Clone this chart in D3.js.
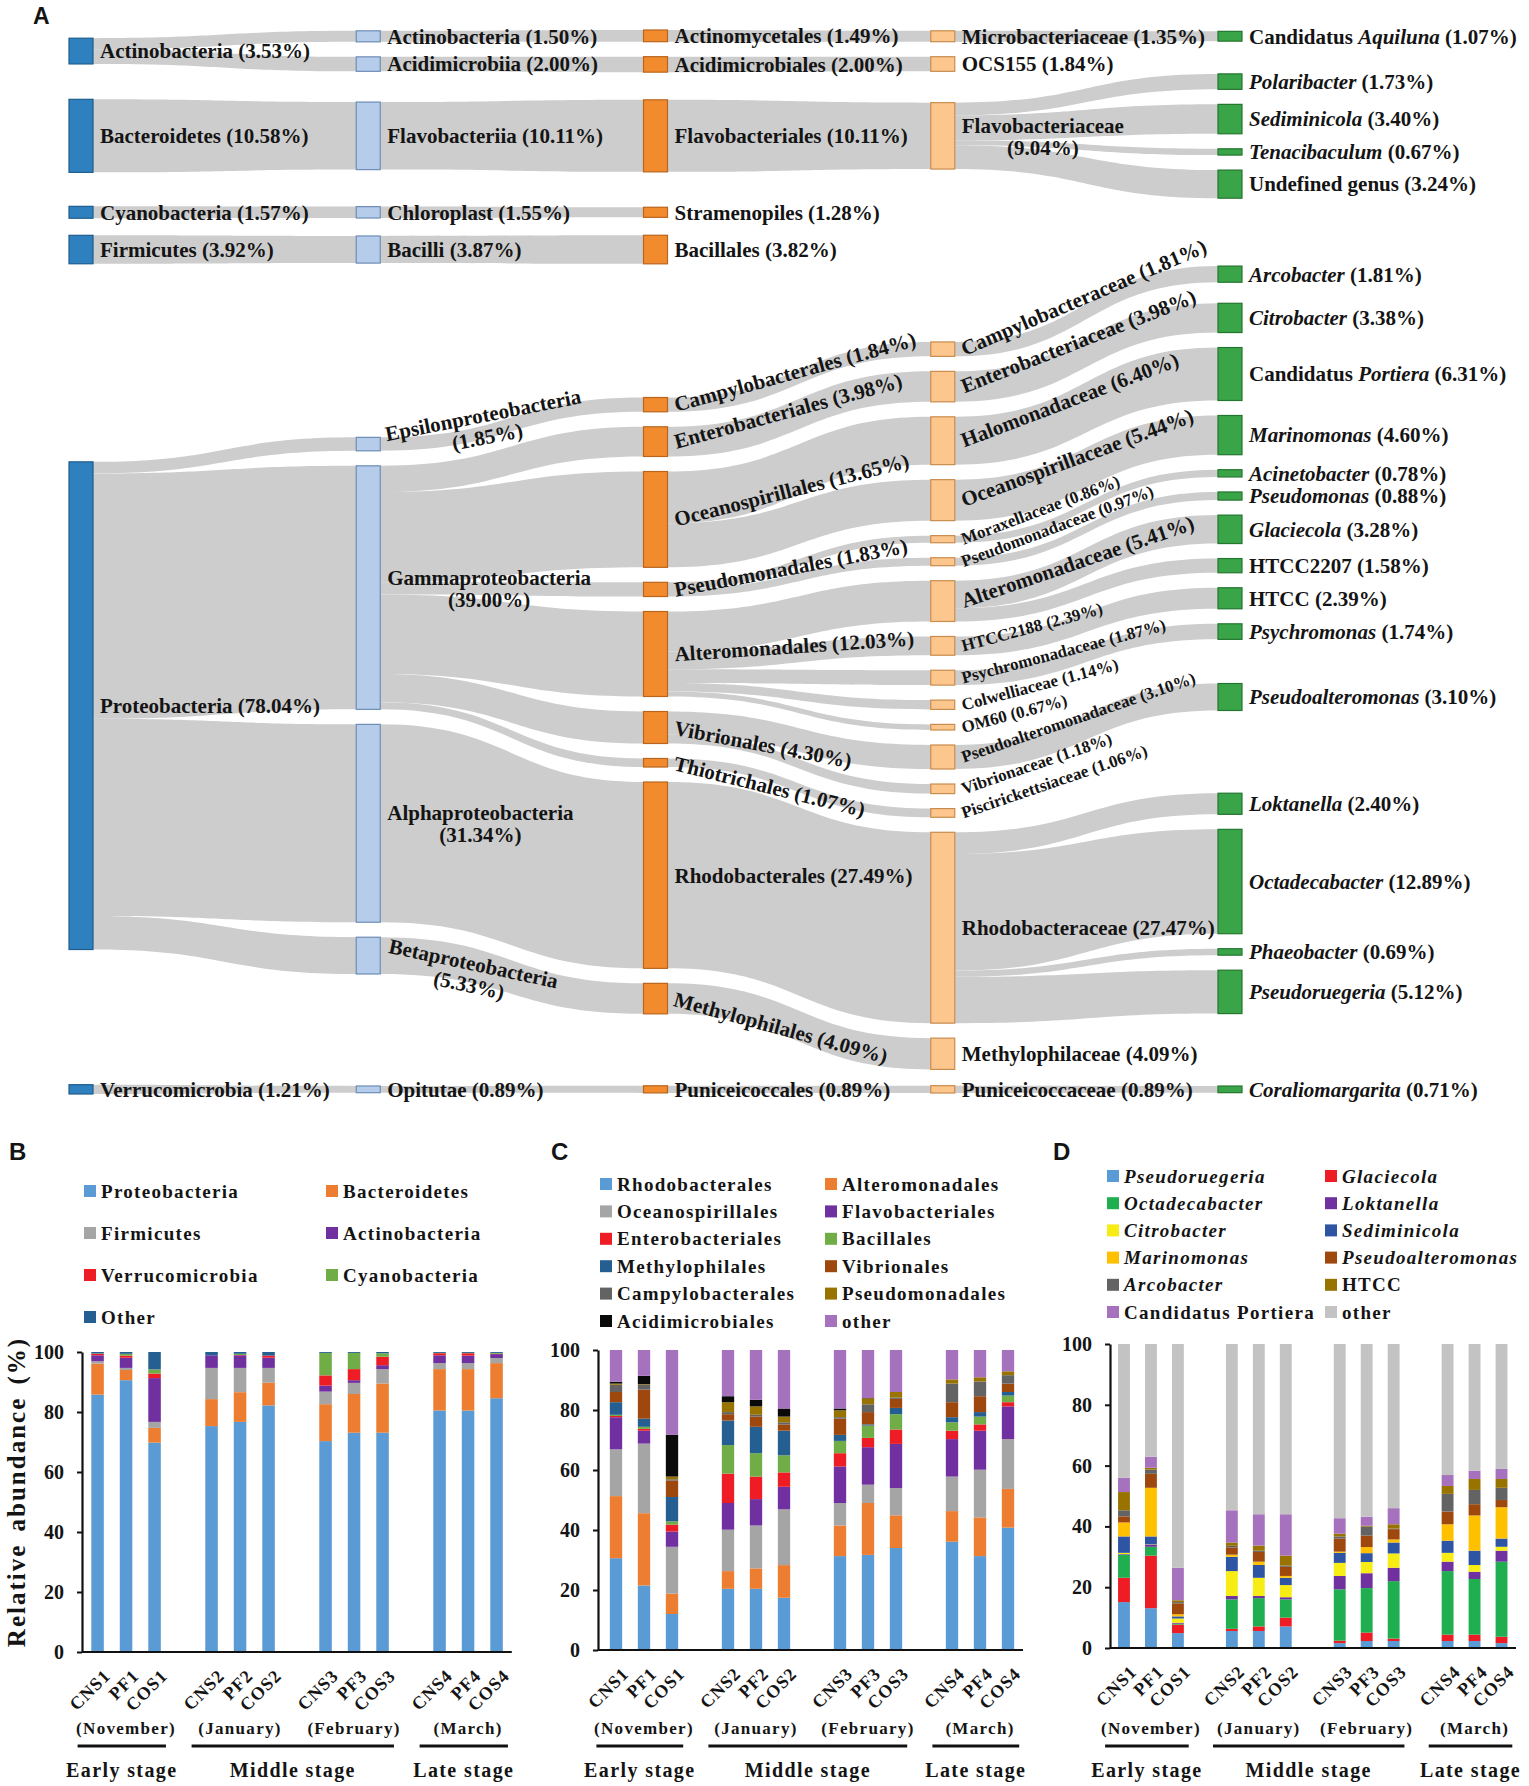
<!DOCTYPE html>
<html>
<head>
<meta charset="utf-8">
<script src="https://cdn.jsdelivr.net/npm/d3@7"></script>
<style>
  body { margin: 0; background: #fff; }
  svg { display: block; }
  text { font-family: "Liberation Serif", "Times New Roman", serif; font-weight: bold; fill: #141414; }
  .letter { font-family: "Liberation Sans", Arial, sans-serif; }
</style>
</head>
<body>
<svg id="fig" width="1529" height="1786"></svg>
<script>
// ---------- panel A: taxonomy levels [name, %, parent] ----------
const phyla = [
  ["Actinobacteria", 3.53], ["Bacteroidetes", 10.58], ["Cyanobacteria", 1.57],
  ["Firmicutes", 3.92], ["Proteobacteria", 78.04], ["Verrucomicrobia", 1.21]
]
const classes = [
  ["Actinobacteria", 1.50, "Actinobacteria"], ["Acidimicrobiia", 2.00, "Actinobacteria"],
  ["Flavobacteriia", 10.11, "Bacteroidetes"], ["Chloroplast", 1.55, "Cyanobacteria"],
  ["Bacilli", 3.87, "Firmicutes"], ["Epsilonproteobacteria", 1.85, "Proteobacteria"],
  ["Gammaproteobacteria", 39.00, "Proteobacteria"], ["Alphaproteobacteria", 31.34, "Proteobacteria"],
  ["Betaproteobacteria", 5.33, "Proteobacteria"], ["Opitutae", 0.89, "Verrucomicrobia"]
]
const orders = [
  ["Actinomycetales", 1.49, "Actinobacteria"], ["Acidimicrobiales", 2.00, "Acidimicrobiia"],
  ["Flavobacteriales", 10.11, "Flavobacteriia"], ["Stramenopiles", 1.28, "Chloroplast"],
  ["Bacillales", 3.82, "Bacilli"], ["Campylobacterales", 1.84, "Epsilonproteobacteria"],
  ["Enterobacteriales", 3.98, "Gammaproteobacteria"], ["Oceanospirillales", 13.65, "Gammaproteobacteria"],
  ["Pseudomonadales", 1.83, "Gammaproteobacteria"], ["Alteromonadales", 12.03, "Gammaproteobacteria"],
  ["Vibrionales", 4.30, "Gammaproteobacteria"], ["Thiotrichales", 1.07, "Gammaproteobacteria"],
  ["Rhodobacterales", 27.49, "Alphaproteobacteria"], ["Methylophilales", 4.09, "Betaproteobacteria"],
  ["Puniceicoccales", 0.89, "Opitutae"]
]
const families = [
  ["Microbacteriaceae", 1.35, "Actinomycetales"], ["OCS155", 1.84, "Acidimicrobiales"],
  ["Flavobacteriaceae", 9.04, "Flavobacteriales"], ["Campylobacteraceae", 1.81, "Campylobacterales"],
  ["Enterobacteriaceae", 3.98, "Enterobacteriales"], ["Halomonadaceae", 6.40, "Oceanospirillales"],
  ["Oceanospirillaceae", 5.44, "Oceanospirillales"], ["Moraxellaceae", 0.86, "Pseudomonadales"],
  ["Pseudomonadaceae", 0.97, "Pseudomonadales"], ["Alteromonadaceae", 5.41, "Alteromonadales"],
  ["HTCC2188", 2.39, "Alteromonadales"], ["Psychromonadaceae", 1.87, "Alteromonadales"],
  ["Colwelliaceae", 1.14, "Alteromonadales"], ["OM60", 0.67, "Alteromonadales"],
  ["Pseudoalteromonadaceae", 3.10, "Vibrionales"], ["Vibrionaceae", 1.18, "Vibrionales"],
  ["Piscirickettsiaceae", 1.06, "Thiotrichales"], ["Rhodobacteraceae", 27.47, "Rhodobacterales"],
  ["Methylophilaceae", 4.09, "Methylophilales"], ["Puniceicoccaceae", 0.89, "Puniceicoccales"]
]
const genera = [
  ["Candidatus Aquiluna", 1.07, "Microbacteriaceae"], ["Polaribacter", 1.73, "Flavobacteriaceae"],
  ["Sediminicola", 3.40, "Flavobacteriaceae"], ["Tenacibaculum", 0.67, "Flavobacteriaceae"],
  ["Undefined genus", 3.24, "Flavobacteriaceae"], ["Arcobacter", 1.81, "Campylobacteraceae"],
  ["Citrobacter", 3.38, "Enterobacteriaceae"], ["Candidatus Portiera", 6.31, "Halomonadaceae"],
  ["Marinomonas", 4.60, "Oceanospirillaceae"], ["Acinetobacter", 0.78, "Moraxellaceae"],
  ["Pseudomonas", 0.88, "Pseudomonadaceae"], ["Glaciecola", 3.28, "Alteromonadaceae"],
  ["HTCC2207", 1.58, "Alteromonadaceae"], ["HTCC", 2.39, "HTCC2188"],
  ["Psychromonas", 1.74, "Psychromonadaceae"], ["Pseudoalteromonas", 3.10, "Pseudoalteromonadaceae"],
  ["Loktanella", 2.40, "Rhodobacteraceae"], ["Octadecabacter", 12.89, "Rhodobacteraceae"],
  ["Phaeobacter", 0.69, "Rhodobacteraceae"], ["Pseudoruegeria", 5.12, "Rhodobacteraceae"],
  ["Coraliomargarita", 0.71, "Puniceicoccaceae"]
]

// ---------- panels B-D: samples and series ----------
const samples = ["CNS1", "PF1", "COS1", "CNS2", "PF2", "COS2", "CNS3", "PF3", "COS3", "CNS4", "PF4", "COS4"]
const months = ["(November)", "(January)", "(February)", "(March)"]
const stages = [["Early stage", "CNS1", "COS1"], ["Middle stage", "CNS2", "COS3"], ["Late stage", "CNS4", "COS4"]]

const phylumKeys = ["Proteobacteria", "Bacteroidetes", "Firmicutes", "Actinobacteria", "Verrucomicrobia", "Cyanobacteria", "Other"]
const phylumColors = ["#5b9bd5", "#ed7d31", "#a5a5a5", "#7030a0", "#ee1c25", "#70ad47", "#255e91"]
const phylumValues = [
  [85.8, 90.6, 69.8, 75.3, 76.7, 82.2, 70.3, 73.1, 73.1, 80.5, 80.5, 84.6],
  [10.3, 3.4, 4.9, 9.0, 9.9, 7.6, 12.3, 12.9, 16.4, 13.8, 13.8, 11.7],
  [0.8, 0.7, 2.0, 10.4, 8.1, 4.9, 4.2, 3.7, 4.8, 2.0, 2.0, 1.7],
  [2.0, 3.4, 14.6, 4.2, 4.2, 3.4, 2.0, 0.9, 1.3, 2.6, 2.5, 1.3],
  [0.5, 0.7, 1.5, 0.0, 0.1, 0.7, 3.4, 3.7, 2.8, 0.7, 0.8, 0.1],
  [0.1, 0.6, 1.4, 0.0, 0.4, 0.0, 7.5, 5.4, 1.2, 0.1, 0.1, 0.3],
  [0.5, 0.6, 5.8, 1.1, 0.6, 1.2, 0.3, 0.3, 0.4, 0.3, 0.3, 0.3]
]

const orderKeys = ["Rhodobacterales", "Alteromonadales", "Oceanospirillales", "Flavobacteriales", "Enterobacteriales", "Bacillales",
  "Methylophilales", "Vibrionales", "Campylobacterales", "Pseudomonadales", "Acidimicrobiales", "other"]
const orderColors = ["#5b9bd5", "#ed7d31", "#a5a5a5", "#7030a0", "#ee1c25", "#70ad47",
  "#255e91", "#9e480e", "#636363", "#997300", "#0a0a0a", "#a672bd"]
const orderValues = [
  [30.6, 21.5, 12.0, 20.4, 20.4, 17.4, 31.3, 31.7, 34.0, 36.1, 31.3, 40.8],
  [20.7, 24.1, 6.8, 5.9, 6.8, 10.9, 10.2, 17.3, 10.9, 10.2, 12.9, 12.9],
  [15.6, 23.2, 15.6, 13.8, 14.3, 18.6, 7.5, 6.1, 9.1, 11.5, 15.9, 16.6],
  [10.7, 4.3, 5.1, 8.9, 8.8, 7.5, 12.2, 12.5, 14.7, 12.5, 13.0, 10.9],
  [0.4, 0.6, 2.3, 9.8, 7.5, 4.8, 4.4, 3.1, 4.8, 2.8, 2.1, 1.4],
  [0.4, 0.7, 1.1, 9.5, 7.8, 5.7, 4.1, 4.1, 5.1, 2.8, 2.6, 2.2],
  [4.2, 2.7, 8.1, 8.2, 8.8, 8.2, 2.0, 0.4, 2.1, 1.7, 1.5, 1.2],
  [3.4, 9.7, 5.5, 2.1, 3.4, 2.1, 5.4, 4.1, 3.0, 5.0, 5.3, 2.8],
  [2.4, 1.6, 0.4, 0.7, 0.6, 0.7, 0.5, 2.6, 0.4, 6.2, 4.9, 2.8],
  [0.4, 0.2, 0.9, 3.3, 2.8, 1.9, 2.3, 2.0, 1.9, 1.4, 1.4, 1.3],
  [0.6, 2.8, 13.9, 2.0, 2.2, 2.7, 0.6, 0.1, 0.0, 0.0, 0.0, 0.0],
  [10.6, 8.6, 28.3, 15.4, 16.6, 19.5, 19.5, 16.0, 14.0, 9.8, 9.1, 7.1]
]

const genusKeys = ["Pseudoruegeria", "Glaciecola", "Octadecabacter", "Loktanella", "Citrobacter", "Sediminicola",
  "Marinomonas", "Pseudoalteromonas", "Arcobacter", "HTCC", "Candidatus Portiera", "other"]
const genusColors = ["#5b9bd5", "#ee1c25", "#1fae50", "#7030a0", "#f7ec13", "#2e54a4",
  "#ffc000", "#9e480e", "#636363", "#997300", "#a672bd", "#c3c3c3"]
const genusValues = [
  [15.1, 13.1, 4.9, 5.6, 5.6, 7.1, 1.6, 2.3, 2.3, 2.3, 2.3, 1.6],
  [8.0, 17.3, 2.8, 0.7, 1.5, 2.9, 0.8, 2.8, 0.8, 2.1, 2.1, 2.1],
  [7.6, 2.9, 0.3, 9.7, 9.3, 6.0, 16.9, 14.6, 18.9, 20.9, 18.3, 24.7],
  [0.2, 0.7, 0.3, 1.1, 0.7, 0.7, 4.4, 4.9, 4.4, 3.1, 2.4, 3.6],
  [0.4, 0.1, 1.4, 8.2, 6.0, 4.0, 4.3, 3.7, 4.7, 2.9, 2.2, 1.3],
  [5.4, 2.6, 0.7, 4.7, 4.2, 2.4, 3.3, 2.9, 3.6, 4.0, 4.7, 2.7],
  [4.6, 16.0, 0.7, 0.7, 1.1, 0.6, 0.4, 2.0, 1.0, 5.4, 11.6, 10.3],
  [2.0, 4.6, 3.6, 2.4, 3.2, 3.0, 4.3, 3.8, 3.4, 4.2, 3.7, 2.4],
  [2.0, 1.4, 0.4, 0.5, 0.4, 0.4, 0.7, 2.9, 0.2, 5.8, 4.7, 4.0],
  [6.0, 0.6, 0.6, 1.1, 1.7, 3.3, 0.9, 0.3, 1.4, 2.6, 3.6, 2.9],
  [4.7, 3.6, 10.7, 10.6, 10.3, 13.6, 5.1, 3.0, 5.3, 3.6, 2.7, 3.3],
  [44.0, 37.1, 73.6, 54.7, 56.0, 56.0, 57.3, 56.8, 54.0, 43.1, 41.7, 41.1]
]

const svg = d3.select("#fig")
const pct = d3.format(".2f")

// ================= A: sankey =================
const colX = d3.scaleLinear().domain([0, 4]).range([69, 1218])
const nodeW = 24
const gap = 15
const sankeyTop = 30, sankeyBottom = 1094
// node thickness per column (the original is drawn slightly sub-linear)
const thick = [7.77, 7.5, 8.0, 8.2, 9.2].map(a => d3.scalePow().exponent(0.95).domain([0, 1]).range([0, a]))
const bandGapWeight = [0.8, 1, 0.5, 2.3, 0.45]
// genus column is lifted above its parents in the proteobacteria block
const rise = { Epsilonproteobacteria: 75, Gammaproteobacteria: 60, Alphaproteobacteria: 25 }
const tiltGain = [1.3, 1.3, 1.3, 1.5]
const colFill = ["#2f80be", "#b5cdea", "#f28b2e", "#fcc68d", "#3aa548"]
const colStroke = ["#1e5d8e", "#6d8db6", "#b9651d", "#c98c4d", "#24752f"]
const wrapLabels = new Set(["Epsilonproteobacteria", "Gammaproteobacteria", "Alphaproteobacteria", "Betaproteobacteria", "Flavobacteriaceae"])

const nodes = []
;[phyla, classes, orders, families, genera].forEach((rows, col) => rows.forEach(([name, value, parentName]) => {
  const parent = col ? nodes.find(n => n.col === col - 1 && n.name === parentName) : null
  nodes.push({ name, value, col, parent, kids: [] })
}))
nodes.forEach(n => {
  if (n.parent) n.parent.kids.push(n)
  const chain = [n]
  while (chain[0].parent) chain.unshift(chain[0].parent)
  n.band = chain[0].name
  n.cls = chain[1] ? chain[1].name : null
  n.h = Math.max(5, thick[n.col](n.value))
})

// bands: one per phylum, columns 0-3 stacked and centred inside
const bands = phyla.map(d => d[0])
const stackH = arr => d3.sum(arr, n => n.h) + gap * Math.max(0, arr.length - 1)
const bandH = bands.map(b => d3.max([0, 1, 2, 3], c => stackH(nodes.filter(n => n.band === b && n.col === c))))
const gapUnit = (sankeyBottom - sankeyTop - d3.sum(bandH)) / d3.sum(bandGapWeight)
let yb = sankeyTop
bands.forEach((b, i) => {
  for (let c = 0; c < 4; c++) {
    const col = nodes.filter(n => n.band === b && n.col === c)
    let y = yb + (bandH[i] - stackH(col)) / 2
    col.forEach(n => { n.y = y; y += n.h + gap })
  }
  yb += bandH[i] + (bandGapWeight[i] || 0) * gapUnit
})

nodes.forEach(p => {
  const tot = d3.sum(p.kids, k => k.value)
  let y = p.y
  p.kids.forEach(k => { k.sh = p.h * k.value / tot; k.sy = y; y += k.sh })
})

// genus column: put each next to its parent slot, keep order + gaps (pool adjacent violators)
function isotonic (vals) {
  const blocks = []
  vals.forEach(v => {
    blocks.push({ sum: v, n: 1 })
    while (blocks.length > 1) {
      const a = blocks[blocks.length - 2], b = blocks[blocks.length - 1]
      if (a.sum / a.n <= b.sum / b.n) break
      a.sum += b.sum; a.n += b.n
      blocks.pop()
    }
  })
  return blocks.flatMap(b => d3.range(b.n).map(() => b.sum / b.n))
}
const leaves = nodes.filter(n => n.col === 4)
let cum = 0
const offs = leaves.map(n => { const o = cum; cum += n.h + gap; return o })
const fit = isotonic(leaves.map((n, i) => n.sy + n.sh / 2 - n.h / 2 - (rise[n.cls] || 0) - offs[i]))
let minY = 12
leaves.forEach((n, i) => { n.y = Math.max(minY, fit[i] + offs[i]); minY = n.y + n.h + gap })

const gA = svg.append("g")
const links = nodes.filter(n => n.parent).map(n => ({ s: n.parent, t: n }))
gA.append("g").selectAll("path").data(links).join("path")
  .attr("fill", "#cdcdcd")
  .attr("d", l => {
    const x0 = colX(l.s.col) + nodeW, x1 = colX(l.t.col), xm = (x0 + x1) / 2
    const a0 = l.t.sy, a1 = l.t.sy + l.t.sh, b0 = l.t.y, b1 = l.t.y + l.t.h
    return `M${x0},${a0}C${xm},${a0} ${xm},${b0} ${x1},${b0}L${x1},${b1}C${xm},${b1} ${xm},${a1} ${x0},${a1}Z`
  })

gA.append("g").selectAll("rect").data(nodes).join("rect")
  .attr("x", n => colX(n.col)).attr("y", n => n.y)
  .attr("width", nodeW).attr("height", n => n.h)
  .attr("fill", n => colFill[n.col]).attr("stroke", n => colStroke[n.col]).attr("stroke-width", 1.2)

// labels follow the direction of the outgoing ribbon
function tilt (n) {
  if (n.col === 4 || n.h > 150) return 0
  if (n.kids.length) {
    const tc = d3.sum(n.kids, k => (k.y + k.h / 2) * k.value) / d3.sum(n.kids, k => k.value)
    const a = Math.atan(tiltGain[n.col] * (tc - n.y - n.h / 2) / (colX(1) - colX(0) - nodeW)) * 180 / Math.PI
    return Math.abs(a) < 3 ? 0 : a
  }
  const above = nodes.filter(m => m.col === n.col && m.band === n.band && m.y < n.y)
  return above.length ? tilt(above[above.length - 1]) : 0
}
function isFirstInBand (n) {
  return !nodes.some(m => m.col === n.col && m.band === n.band && m.y < n.y)
}
function parts (n) {
  const p = ` (${pct(n.value)}%)`
  if (n.col < 4) return [[n.name + p, false]]
  if (n.name.startsWith("Candidatus ")) return [["Candidatus ", false], [n.name.slice(11), true], [p, false]]
  if (/^[A-Z0-9]+$/.test(n.name) || n.name.startsWith("Undefined")) return [[n.name + p, false]]
  return [[n.name, true], [p, false]]
}

const lab = gA.append("g").selectAll("g").data(nodes).join("g")
  .attr("transform", n => `translate(${colX(n.col) + nodeW + 7},${n.y + n.h / 2}) rotate(${tilt(n)})`)
  .style("font-size", n => (n.col === 3 && n.value < 3.2 && tilt(n) !== 0 && !isFirstInBand(n)) ? "17px" : "21px")

lab.each(function (n) {
  const g = d3.select(this)
  if (wrapLabels.has(n.name)) {
    const t1 = g.append("text").attr("y", -3).text(n.name)
    const w = t1.node().getComputedTextLength()
    g.append("text").attr("x", w / 2).attr("y", 19).attr("text-anchor", "middle").text(`(${pct(n.value)}%)`)
    return
  }
  const t = g.append("text").attr("dy", "0.35em")
  parts(n).forEach(([s, it]) => t.append("tspan").style("font-style", it ? "italic" : "normal").text(s))
})

svg.append("text").attr("class", "letter").attr("x", 33).attr("y", 24).style("font-size", "23px").text("A")

// ================= B-D: stacked bars =================
function stackedPanel (o) {
  const g = svg.append("g")
  const slotsB = samples.flatMap((s, i) => (i % 3 === 2 && i < samples.length - 1) ? [s, "sep" + i] : [s])
  const x = d3.scaleBand().domain(slotsB).range(o.xr).paddingInner(0.56).paddingOuter(0.28)
  const y = d3.scaleLinear().domain([0, 100]).range(o.yr)
  const rows = samples.map((s, i) => Object.fromEntries([["sample", s]].concat(o.keys.map((k, j) => [k, o.values[j][i]]))))
  const series = d3.stack().keys(o.keys)(rows)

  g.append("g").selectAll("g").data(series).join("g")
    .attr("fill", (d, i) => o.colors[i])
    .selectAll("rect").data(d => d).join("rect")
    .attr("x", d => x(d.data.sample)).attr("width", x.bandwidth())
    .attr("y", d => y(d[1])).attr("height", d => Math.max(0, y(d[0]) - y(d[1])))

  const ax = g.append("g").attr("transform", `translate(${o.axisX},0)`)
    .call(d3.axisLeft(y).tickValues([0, 20, 40, 60, 80, 100]).tickSize(5).tickSizeOuter(0).tickPadding(13))
  ax.select(".domain").attr("stroke", "#111").attr("stroke-width", 2.2)
  ax.selectAll(".tick line").attr("stroke", "#111").attr("stroke-width", 2)
  ax.selectAll(".tick text").attr("fill", "#141414").style("font-size", "20px")
    .style("font-family", "'Liberation Serif', 'Times New Roman', serif").style("font-weight", "bold")
  g.append("line").attr("x1", o.axisX).attr("x2", o.xr[1] + 1).attr("y1", y(0)).attr("y2", y(0))
    .attr("stroke", "#111").attr("stroke-width", 2.2)

  const cx = s => x(s) + x.bandwidth() / 2
  g.append("g").selectAll("text").data(samples).join("text")
    .attr("transform", s => `translate(${cx(s) + 5},${y(0) + 16}) rotate(-45)`)
    .attr("text-anchor", "end").attr("dy", "0.7em")
    .style("font-size", "18px").style("letter-spacing", "1px").text(s => s)

  g.append("g").selectAll("text").data(months).join("text")
    .attr("x", (m, i) => cx(samples[i * 3 + 1])).attr("y", 1734)
    .attr("text-anchor", "middle").style("font-size", "17px").style("letter-spacing", "1.3px").text(m => m)

  const st = g.append("g").selectAll("g").data(stages).join("g")
  st.append("line")
    .attr("x1", d => cx(d[1]) - 0.7 * x.step()).attr("x2", d => cx(d[2]) + 0.4 * x.step())
    .attr("y1", 1746).attr("y2", 1746).attr("stroke", "#111").attr("stroke-width", 3)
  st.append("text")
    .attr("x", d => (cx(d[1]) - 0.7 * x.step() + cx(d[2]) + 0.4 * x.step()) / 2).attr("y", 1777)
    .attr("text-anchor", "middle").style("font-size", "20px").style("letter-spacing", "1.4px").text(d => d[0])

  const lg = g.append("g").selectAll("g").data(o.keys).join("g")
    .attr("transform", (k, i) => `translate(${o.legX[i % 2]},${o.legY + Math.floor(i / 2) * o.legDy})`)
  lg.append("rect").attr("y", -6).attr("width", 12).attr("height", 12).attr("fill", (k, i) => o.colors[i])
  lg.append("text").attr("x", 17).attr("dy", "0.35em")
    .style("font-size", "19px").style("letter-spacing", "1.3px")
    .style("font-style", k => o.italic && o.italic(k) ? "italic" : "normal").text(k => k)

  svg.append("text").attr("class", "letter").attr("x", o.letter[1]).attr("y", 1160)
    .style("font-size", "24px").text(o.letter[0])
}

stackedPanel({
  keys: phylumKeys, colors: phylumColors, values: phylumValues,
  xr: [83.3, 510.8], yr: [1652, 1352], axisX: 82,
  legX: [84, 326], legY: 1191, legDy: 42, letter: ["B", 9]
})
stackedPanel({
  keys: orderKeys, colors: orderColors, values: orderValues,
  xr: [602, 1022], yr: [1650, 1350], axisX: 598,
  legX: [600, 825], legY: 1184, legDy: 27.4, letter: ["C", 551]
})
stackedPanel({
  keys: genusKeys, colors: genusColors, values: genusValues,
  xr: [1110.5, 1515], yr: [1648, 1344], axisX: 1110,
  legX: [1107, 1325], legY: 1176, legDy: 27.2, letter: ["D", 1053],
  italic: k => !(k === "other" || k === "HTCC" || k.startsWith("Candidatus"))
})

svg.append("text")
  .attr("transform", "translate(25,1492) rotate(-90)").attr("text-anchor", "middle")
  .style("font-size", "25px").style("letter-spacing", "2px").style("word-spacing", "4px")
  .text("Relative abundance (%)")
</script>
</body>
</html>
